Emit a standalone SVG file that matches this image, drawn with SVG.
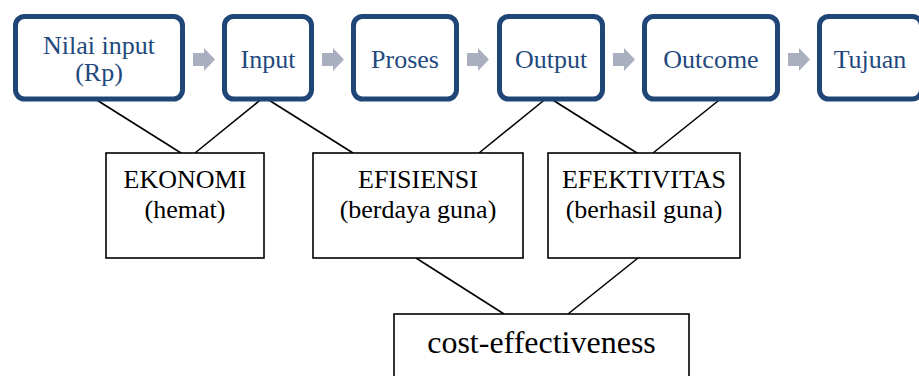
<svg xmlns="http://www.w3.org/2000/svg" width="919" height="376" viewBox="0 0 919 376">
<defs>
<style>
.top rect{fill:#fff;stroke:#1f4677;stroke-width:5}
.top text{font-family:"Liberation Serif","Times New Roman",serif;font-size:26px;fill:#1f497d;text-anchor:middle}
.arrow{fill:#a9afbe}
.low rect{fill:#fff;stroke:#000;stroke-width:1.6}
.low text{font-family:"Liberation Serif","Times New Roman",serif;font-size:26px;fill:#000;text-anchor:middle}
#connectors line{stroke:#000;stroke-width:1.6}
</style>
<polygon id="chev" points="0,5 11,5 11,0 22,11.5 11,23 11,18 0,18"/>
</defs>
<rect width="919" height="376" fill="#fff"/>
<g id="connectors">
<line x1="92" y1="97" x2="181" y2="153"/>
<line x1="264" y1="97" x2="195" y2="153"/>
<line x1="264" y1="97" x2="353" y2="153"/>
<line x1="548" y1="97" x2="479" y2="153"/>
<line x1="548" y1="97" x2="637" y2="153"/>
<line x1="723" y1="97" x2="653" y2="153"/>
<line x1="416" y1="258" x2="504" y2="314"/>
<line x1="638" y1="258" x2="568" y2="314"/>
</g>
<g id="arrows" class="arrow">
<use href="#chev" x="193" y="48"/>
<use href="#chev" x="322" y="48"/>
<use href="#chev" x="467" y="48"/>
<use href="#chev" x="613" y="48"/>
<use href="#chev" x="788" y="48"/>
</g>
<g id="nilai" class="top"><rect x="15.5" y="16.5" width="167" height="82.5" rx="9"/><text x="99" y="54">Nilai input</text><text x="99" y="80.5">(Rp)</text></g>
<g id="input" class="top"><rect x="224.5" y="16.5" width="87" height="82.5" rx="9"/><text x="268" y="67.5">Input</text></g>
<g id="proses" class="top"><rect x="353.5" y="16.5" width="103" height="82.5" rx="9"/><text x="405" y="67.5">Proses</text></g>
<g id="output" class="top"><rect x="499.5" y="16.5" width="103" height="82.5" rx="9"/><text x="551" y="67.5">Output</text></g>
<g id="outcome" class="top"><rect x="644.5" y="16.5" width="133" height="82.5" rx="9"/><text x="711" y="67.5">Outcome</text></g>
<g id="tujuan" class="top"><rect x="819.5" y="16.5" width="102" height="82.5" rx="9"/><text x="870" y="67.5">Tujuan</text></g>
<g id="ekonomi" class="low"><rect x="106" y="153" width="158" height="105"/><text x="185" y="188">EKONOMI</text><text x="185" y="218">(hemat)</text></g>
<g id="efisiensi" class="low"><rect x="313" y="153" width="210" height="105"/><text x="418" y="188">EFISIENSI</text><text x="418" y="218">(berdaya guna)</text></g>
<g id="efektivitas" class="low"><rect x="548" y="153" width="192" height="105"/><text x="644" y="188">EFEKTIVITAS</text><text x="644" y="218">(berhasil guna)</text></g>
<g id="cost" class="low"><rect x="394" y="314" width="295" height="70"/><text x="541.5" y="353" style="font-size:32px">cost-effectiveness</text></g>
</svg>
